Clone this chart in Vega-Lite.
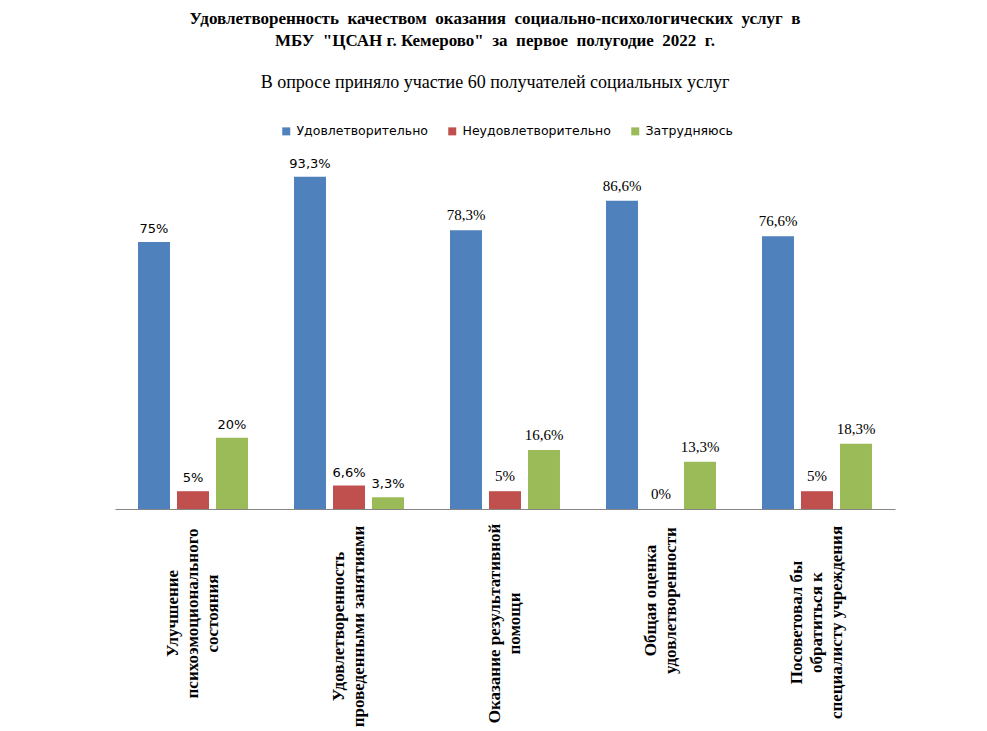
{
  "$schema": "https://vega.github.io/schema/vega-lite/v6.json",
  "width": 780,
  "height": 356,
  "autosize": {"type": "none"},
  "padding": {"left": 115, "top": 153, "right": 92, "bottom": 222},
  "background": "white",
  "config": {"view": {"stroke": null}},
  "title": {
    "text": ["Удовлетворенность\u00a0 качеством\u00a0 оказания\u00a0 социально-психологических\u00a0 услуг\u00a0 в", "МБУ\u00a0 \"ЦСАН г. Кемерово\"\u00a0 за\u00a0 первое\u00a0 полугодие\u00a0 2022\u00a0 г."],
    "subtitle": "В опросе приняло участие 60 получателей социальных услуг",
    "font": "Liberation Serif",
    "fontSize": 17,
    "fontWeight": "bold",
    "lineHeight": 22,
    "color": "black",
    "subtitleFont": "Liberation Serif",
    "subtitleFontSize": 18,
    "subtitleColor": "black",
    "subtitlePadding": 24,
    "anchor": "middle",
    "frame": "group",
    "offset": 32,
    "dx": -10
  },
  "data": {
    "values": [
      {"category": "Улучшение\nпсихоэмоционального\nсостояния", "series": "Удовлетворительно", "value": 75},
      {"category": "Улучшение\nпсихоэмоционального\nсостояния", "series": "Неудовлетворительно", "value": 5},
      {"category": "Улучшение\nпсихоэмоционального\nсостояния", "series": "Затрудняюсь", "value": 20},
      {"category": "Удовлетворенность\nпроведенными занятиями", "series": "Удовлетворительно", "value": 93.3},
      {"category": "Удовлетворенность\nпроведенными занятиями", "series": "Неудовлетворительно", "value": 6.6},
      {"category": "Удовлетворенность\nпроведенными занятиями", "series": "Затрудняюсь", "value": 3.3},
      {"category": "Оказание результативной\nпомощи", "series": "Удовлетворительно", "value": 78.3},
      {"category": "Оказание результативной\nпомощи", "series": "Неудовлетворительно", "value": 5},
      {"category": "Оказание результативной\nпомощи", "series": "Затрудняюсь", "value": 16.6},
      {"category": "Общая оценка\nудовлетворенности", "series": "Удовлетворительно", "value": 86.6},
      {"category": "Общая оценка\nудовлетворенности", "series": "Неудовлетворительно", "value": 0},
      {"category": "Общая оценка\nудовлетворенности", "series": "Затрудняюсь", "value": 13.3},
      {"category": "Посоветовал бы\nобратиться к\nспециалисту учреждения", "series": "Удовлетворительно", "value": 76.6},
      {"category": "Посоветовал бы\nобратиться к\nспециалисту учреждения", "series": "Неудовлетворительно", "value": 5},
      {"category": "Посоветовал бы\nобратиться к\nспециалисту учреждения", "series": "Затрудняюсь", "value": 18.3}
    ]
  },
  "transform": [
    {"calculate": "replace(format(datum.value, '.1~f'), '.', ',') + '%'", "as": "label"}
  ],
  "encoding": {
    "x": {
      "field": "category",
      "type": "nominal",
      "sort": null,
      "scale": {"paddingInner": 0.295, "paddingOuter": 0.1475},
      "axis": {
        "title": null,
        "ticks": false,
        "domainColor": "#868686",
        "domainWidth": 1,
        "labelAngle": -90,
        "labelAlign": "center",
        "labelBaseline": "middle",
        "labelFont": "Liberation Serif",
        "labelFontSize": 17,
        "labelFontWeight": "bold",
        "labelColor": "black",
        "labelPadding": {
          "condition": [
            {"test": "indexof(datum.value, 'Улучшение') == 0", "value": 104},
            {"test": "indexof(datum.value, 'Удовлетворенность') == 0", "value": 117},
            {"test": "indexof(datum.value, 'Оказание') == 0", "value": 114},
            {"test": "indexof(datum.value, 'Общая') == 0", "value": 91}
          ],
          "value": 113
        },
        "labelOffset": {
          "condition": {"test": "length(split(datum.value, '\\n')) == 3", "value": -20},
          "value": -10
        },
        "labelLineHeight": 20,
        "labelLimit": 400,
        "labelExpr": "split(datum.label, '\\n')"
      }
    },
    "xOffset": {
      "field": "series",
      "type": "nominal",
      "sort": ["Удовлетворительно", "Неудовлетворительно", "Затрудняюсь"],
      "scale": {"paddingInner": 0.18, "paddingOuter": 0}
    },
    "y": {
      "field": "value",
      "type": "quantitative",
      "scale": {"domain": [0, 100]},
      "axis": null
    }
  },
  "layer": [
    {
      "mark": {"type": "bar"},
      "encoding": {
        "color": {
          "field": "series",
          "type": "nominal",
          "scale": {
            "domain": ["Удовлетворительно", "Неудовлетворительно", "Затрудняюсь"],
            "range": ["#4F81BD", "#C0504D", "#9BBB59"]
          },
          "legend": {
            "title": null,
            "orient": "none",
            "direction": "horizontal",
            "legendX": 165,
            "legendY": -28,
            "symbolType": "square",
            "symbolSize": 64,
            "symbolStrokeWidth": 0,
            "labelFont": "DejaVu Sans",
            "labelFontSize": 12.5,
            "labelColor": "black",
            "labelOffset": 4,
            "columnPadding": 18
          }
        }
      }
    },
    {
      "transform": [{"filter": {"field": "category", "oneOf": ["Улучшение\nпсихоэмоционального\nсостояния", "Удовлетворенность\nпроведенными занятиями"]}}],
      "mark": {"type": "text", "font": "DejaVu Sans", "fontSize": 13, "baseline": "alphabetic", "dy": -9, "color": "black"},
      "encoding": {"text": {"field": "label"}}
    },
    {
      "transform": [{"filter": {"not": {"field": "category", "oneOf": ["Улучшение\nпсихоэмоционального\nсостояния", "Удовлетворенность\nпроведенными занятиями"]}}}],
      "mark": {"type": "text", "font": "Liberation Serif", "fontSize": 15, "baseline": "alphabetic", "dy": -10, "color": "black"},
      "encoding": {"text": {"field": "label"}}
    }
  ]
}
